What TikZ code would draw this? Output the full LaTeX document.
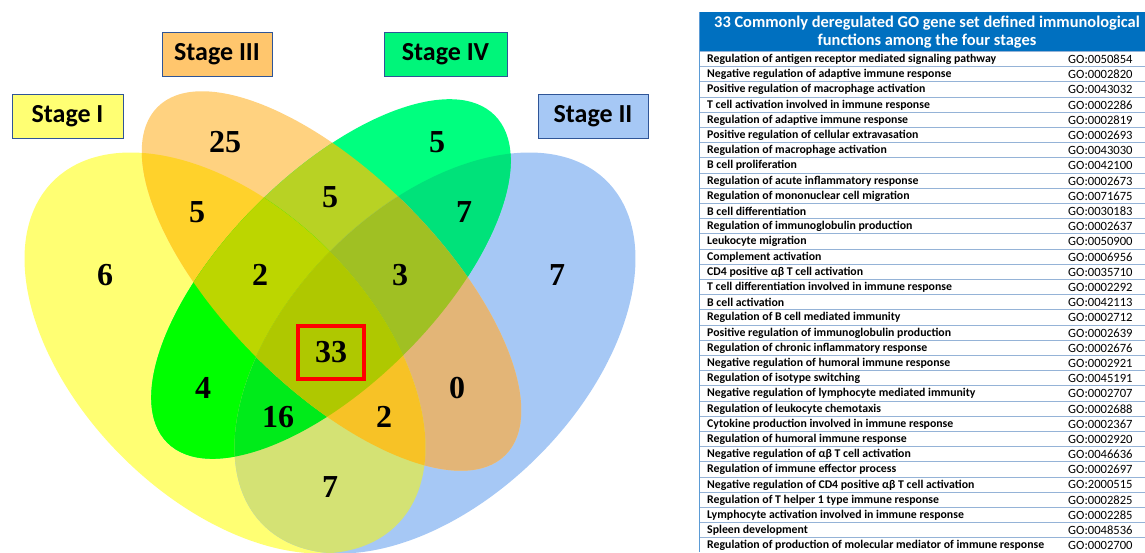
\documentclass[tikz,border=0pt]{standalone}
\usepackage{fontspec}
\setmainfont{Carlito}
\newfontfamily\numfont{Liberation Serif}
\definecolor{cI}{HTML}{FFFF73}
\definecolor{cII}{HTML}{A6C8F5}
\definecolor{cIII}{HTML}{FFD280}
\definecolor{cIV}{HTML}{00FF7F}
\definecolor{cIandIII}{HTML}{FFD22B}
\definecolor{cIIIandIV}{HTML}{B8D224}
\definecolor{cIVandII}{HTML}{00E27A}
\definecolor{cIandIV}{HTML}{00FF00}
\definecolor{cIIIandII}{HTML}{E3B577}
\definecolor{cIandII}{HTML}{D4E274}
\definecolor{cIIIIIV}{HTML}{BCD600}
\definecolor{cIIIIVII}{HTML}{A0C023}
\definecolor{cIIVII}{HTML}{00EB1A}
\definecolor{cIIIIII}{HTML}{F7C226}
\definecolor{call}{HTML}{AFC800}
\definecolor{boxblue}{HTML}{2F5597}
\definecolor{titleblue}{HTML}{0070C0}
\definecolor{rowline}{HTML}{95B3D7}
\definecolor{sideline}{HTML}{5B9BD5}
\newcommand{\venI}{(225,199) ellipse [x radius=243, y radius=146, rotate=-45]}
\newcommand{\venII}{(435,199) ellipse [x radius=243, y radius=146, rotate=45]}
\newcommand{\venIII}{(331.5,271) ellipse [x radius=246, y radius=107, rotate=-45]}
\newcommand{\venIV}{(331,273) ellipse [x radius=231.5, y radius=105, rotate=45]}
\tikzset{
  num/.style={font=\numfont\bfseries\fontsize{32}{32}\selectfont, inner sep=0pt},
  stagebox/.style={draw=boxblue, line width=1, minimum height=44, inner sep=0pt,
    font=\bfseries\fontsize{26}{26}\selectfont},
  rowtext/.style={anchor=west, inner sep=0pt, font=\bfseries\fontsize{11.8}{12}\selectfont},
  gotext/.style={anchor=west, inner sep=0pt, font=\fontsize{12.6}{12}\selectfont}
}
\begin{document}
\begin{tikzpicture}[x=1pt, y=1pt]
\useasboundingbox (0,0) rectangle (1145,552);
% single sets
\fill[cI] \venI;
\fill[cII] \venII;
\fill[cIII] \venIII;
\fill[cIV] \venIV;
% two sets
\begin{scope}\clip\venI; \fill[cIandIII] \venIII;\end{scope}
\begin{scope}\clip\venIII; \fill[cIIIandIV] \venIV;\end{scope}
\begin{scope}\clip\venIV; \fill[cIVandII] \venII;\end{scope}
\begin{scope}\clip\venI; \fill[cIandIV] \venIV;\end{scope}
\begin{scope}\clip\venIII; \fill[cIIIandII] \venII;\end{scope}
\begin{scope}\clip\venI; \fill[cIandII] \venII;\end{scope}
% three sets
\begin{scope}\clip\venI; \clip\venIII; \fill[cIIIIIV] \venIV;\end{scope}
\begin{scope}\clip\venIII; \clip\venIV; \fill[cIIIIVII] \venII;\end{scope}
\begin{scope}\clip\venI; \clip\venIV; \fill[cIIVII] \venII;\end{scope}
\begin{scope}\clip\venI; \clip\venIII; \fill[cIIIIII] \venII;\end{scope}
% all four
\begin{scope}\clip\venI; \clip\venII; \clip\venIII; \fill[call] \venIV;\end{scope}

% counts
\node[num] (nI) at (105,277) {6};
\node[num] (nIII) at (225,410) {25};
\node[num] (nIV) at (437,410) {5};
\node[num] (nII) at (557,277) {7};
\node[num] (nI-III) at (197,340) {5};
\node[num] (nIII-IV) at (330,355) {5};
\node[num] (nIV-II) at (464,340) {7};
\node[num] (nI-III-IV) at (260,277) {2};
\node[num] (nIII-IV-II) at (400,277) {3};
\node[num, draw=red, line width=3.5, minimum width=66, minimum height=53] (nall) at (331,199.5) {33};
\node[num] (nI-IV) at (203,164) {4};
\node[num] (nIII-II) at (457,164) {0};
\node[num] (nI-IV-II) at (278,135) {16};
\node[num] (nI-III-II) at (384,135) {2};
\node[num] (nI-II) at (330,65) {7};

% stage labels
\node[stagebox, fill=cI, minimum width=111] (lI) at (67.5,435.5) {Stage I};
\node[stagebox, fill=cIII!85!orange, minimum width=110] (lIII) at (217,497.5) {Stage III};
\node[stagebox, fill=cIV!96!black, minimum width=123] (lIV) at (445.5,497.5) {Stage IV};
\node[stagebox, fill=cII, minimum width=110] (lII) at (593,435.5) {Stage II};

% table
\fill[titleblue] (699.6,540) rectangle (1145,500.5);
\node[text=white, inner sep=0pt, align=center,
  font=\bfseries\fontsize{16.4}{18}\selectfont] (title) at (927,520)
  {33 Commonly deregulated GO gene set defined immunological\\functions among the four stages};
\foreach \k in {0,...,32}{
\draw[rowline, line width=0.9] (700,552-51.5-15.2*\k) -- (1145,552-51.5-15.2*\k);
}
\draw[sideline, line width=1.2] (699.6,540) -- (699.6,0);
\foreach \name/\go [count=\i] in {
Regulation of antigen receptor mediated signaling pathway/GO:0050854,
Negative regulation of adaptive immune response/GO:0002820,
Positive regulation of macrophage activation/GO:0043032,
T cell activation involved in immune response/GO:0002286,
Regulation of adaptive immune response/GO:0002819,
Positive regulation of cellular extravasation/GO:0002693,
Regulation of macrophage activation/GO:0043030,
B cell proliferation/GO:0042100,
Regulation of acute inflammatory response/GO:0002673,
Regulation of mononuclear cell migration/GO:0071675,
B cell differentiation/GO:0030183,
Regulation of immunoglobulin production/GO:0002637,
Leukocyte migration/GO:0050900,
Complement activation/GO:0006956,
CD4 positive αβ T cell activation/GO:0035710,
T cell differentiation involved in immune response/GO:0002292,
B cell activation/GO:0042113,
Regulation of B cell mediated immunity/GO:0002712,
Positive regulation of immunoglobulin production/GO:0002639,
Regulation of chronic inflammatory response/GO:0002676,
Negative regulation of humoral immune response/GO:0002921,
Regulation of isotype switching/GO:0045191,
Negative regulation of lymphocyte mediated immunity/GO:0002707,
Regulation of leukocyte chemotaxis/GO:0002688,
Cytokine production involved in immune response/GO:0002367,
Regulation of humoral immune response/GO:0002920,
Negative regulation of αβ T cell activation/GO:0046636,
Regulation of immune effector process/GO:0002697,
Negative regulation of CD4 positive αβ T cell activation/GO:2000515,
Regulation of T helper 1 type immune response/GO:0002825,
Lymphocyte activation involved in immune response/GO:0002285,
Spleen development/GO:0048536,
Regulation of production of molecular mediator of immune response/GO:0002700}{
\node[rowtext] (row\i) at (707,552-59.3-15.2*\i+15.2) {\name};
\node[gotext] (go\i) at (1068,552-59.3-15.2*\i+15.2) {\go};
}
\end{tikzpicture}
\end{document}
